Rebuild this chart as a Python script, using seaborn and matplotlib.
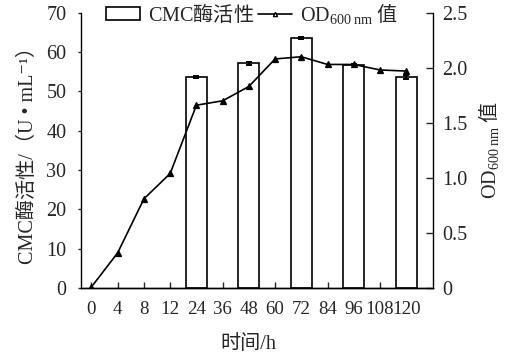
import numpy as np
import pandas as pd
import seaborn as sns
import matplotlib
matplotlib.use("Agg")
import matplotlib.pyplot as plt
from matplotlib.patches import Patch
from matplotlib.lines import Line2D
from matplotlib.font_manager import FontProperties
from matplotlib.ticker import FuncFormatter

# ---- data ----
time_labels = ["0", "4", "8", "12", "24", "36", "48", "60", "72", "84", "96", "108", "120"]
od_values = [0.01, 0.32, 0.81, 1.04, 1.66, 1.70, 1.83, 2.08, 2.10, 2.03, 2.03, 1.98, 1.97]
bar_times = ["24", "48", "72", "96", "120"]
cmc_activity = [53.6, 57.1, 63.5, 56.8, 53.6]
cmc_err = [0.2, 0.3, 0.3, 0.2, 0.5]
left_ticks = [0, 10, 20, 30, 40, 50, 60, 70]
right_ticks = [0, 0.5, 1.0, 1.5, 2.0, 2.5]

sns.set_style("ticks")
plt.rcParams["font.family"] = ["Liberation Serif", "Noto Sans CJK SC", "DejaVu Serif"]
plt.rcParams["mathtext.fontset"] = "custom"
plt.rcParams["mathtext.rm"] = "Liberation Serif"
plt.rcParams["mathtext.it"] = "Liberation Serif:italic"
plt.rcParams["mathtext.bf"] = "Liberation Serif:bold"

FS = 14.5
cjk = FontProperties(family="Noto Sans CJK SC", size=FS)

fig = plt.figure(figsize=(5.09, 3.55), dpi=100)
ax = fig.add_subplot(111)
fig.subplots_adjust(left=81/509, right=433/509, bottom=(355-288)/355, top=(355-12.7)/355)

df_bar = pd.DataFrame({"time": bar_times, "cmc": cmc_activity})
sns.barplot(data=df_bar, x="time", y="cmc", order=time_labels, color="white",
            edgecolor="black", linewidth=1.2, width=0.8, errorbar=None, ax=ax,
            saturation=1)
bar_pos = [time_labels.index(t) for t in bar_times]
ax.errorbar(bar_pos, cmc_activity, yerr=cmc_err, fmt="none", ecolor="black",
            elinewidth=1.6, capsize=2.5, capthick=1.4, zorder=3)

ax2 = ax.twinx()
sns.pointplot(x=time_labels, y=od_values, order=time_labels, color="black",
              markers="^", linestyles="-", errorbar=None, ax=ax2,
              markersize=4, linewidth=1.2)

ax.set_ylim(0, 70)
ax.set_yticks(left_ticks)
ax2.set_ylim(0, 2.5)
ax2.set_yticks(right_ticks)
fmt = FuncFormatter(lambda v, p: "0" if v == 0 else f"{v:.1f}")
ax2.yaxis.set_major_formatter(fmt)
ax.yaxis.set_major_formatter(FuncFormatter(lambda v, p: f"{int(v)}"))
ax.set_xticks(range(len(time_labels)))
ax.set_xticklabels(time_labels)
ax.set_xlim(-0.40, 13.02)

for a in (ax, ax2):
    a.spines["top"].set_visible(False)
    for s in a.spines.values():
        s.set_linewidth(1.0)
        s.set_color("black")
ax.spines["right"].set_visible(False)
ax2.spines["left"].set_visible(False)

ax.tick_params(axis="y", direction="out", length=2.5, width=1.0, pad=8, labelsize=FS)
ax.tick_params(axis="x", direction="in", length=4.5, width=1.0, pad=9, labelsize=13.6)
ax2.tick_params(axis="y", direction="in", length=5, width=1.0, pad=6.5, labelsize=FS)

ax.set_xlabel("时间/h", fontsize=FS, labelpad=6)
ax.xaxis.set_label_coords(0.475, -0.17)
ax.set_ylabel("CMC酶活性/（U • mL⁻¹）", fontsize=FS, labelpad=6)
ax2.set_ylabel(r"$\mathrm{OD}_{\mathrm{600\ nm}}$ 值", fontproperties=cjk, labelpad=6)

handles = [Patch(facecolor="white", edgecolor="black", linewidth=1.2),
           Line2D([], [], color="black", marker="^", markersize=3,
                  markerfacecolor="white", linewidth=1.2)]
labels = [r"$\mathrm{CMC}$酶活性", r"$\mathrm{OD}_{\mathrm{600\ nm}}$ 值"]
fig.legend(handles, labels, loc="center", bbox_to_anchor=(0.495, 0.963), ncol=2,
           frameon=False, prop=cjk, handlelength=1.7, handletextpad=0.38,
           columnspacing=0.2, handleheight=0.62, borderpad=0, borderaxespad=0)

fig.savefig("out.png", dpi=100)
